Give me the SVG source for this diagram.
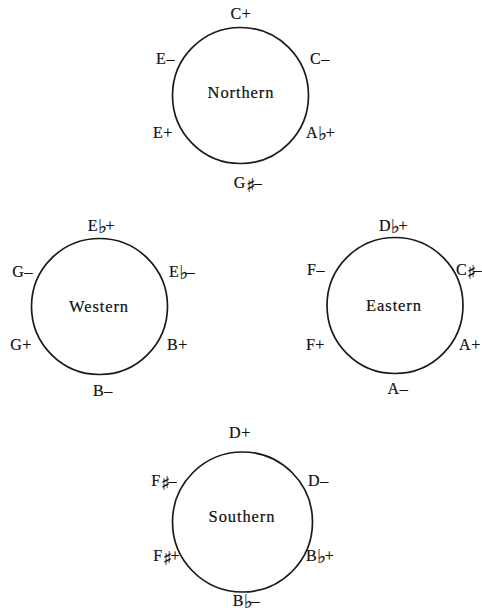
<svg xmlns="http://www.w3.org/2000/svg" width="482" height="611" viewBox="0 0 482 611">
<style>
  .ring { fill: none; stroke: #1a1a1a; stroke-width: 1.7; }
  text { font-family: "Liberation Serif", "DejaVu Serif", serif; font-size: 16px; fill: #111111; letter-spacing: 0.6px; stroke: #111111; stroke-width: 0.2px; }
  .name { font-size: 16.5px; letter-spacing: 0.9px; text-anchor: middle; }
  .l { text-anchor: end; }
  .r { text-anchor: start; }
  .m { text-anchor: middle; }
  .acc { font-family: "DejaVu Sans", sans-serif; font-size: 19px; letter-spacing: -1.5px; }
  .tight { letter-spacing: 0; }
</style>
<rect width="482" height="611" fill="#ffffff"/>

<g id="northern">
  <circle class="ring" cx="240.5" cy="95.5" r="68"/>
  <text class="name" x="241" y="98">Northern</text>
  <text class="m" x="241" y="19">C+</text>
  <text class="l" x="175" y="64">E–</text>
  <text class="r" x="310" y="64">C–</text>
  <text class="l" x="173" y="138">E+</text>
  <text class="r" x="306" y="138">A<tspan class="acc" dy="2">♭</tspan><tspan dy="-2">+</tspan></text>
  <text class="m" x="248" y="188">G<tspan class="acc" dy="4">♯</tspan><tspan dy="-4">–</tspan></text>
</g>

<g id="western">
  <circle class="ring" cx="99.5" cy="306.5" r="68"/>
  <text class="name" x="99" y="312">Western</text>
  <text class="m" x="101.5" y="231">E<tspan class="acc" dy="2">♭</tspan><tspan dy="-2">+</tspan></text>
  <text class="l" x="33" y="277">G–</text>
  <text class="r" x="169" y="277">E<tspan class="acc" dy="2">♭</tspan><tspan dy="-2">–</tspan></text>
  <text class="l" x="32" y="350">G+</text>
  <text class="r" x="167" y="350">B+</text>
  <text class="m" x="103" y="396">B–</text>
</g>

<g id="eastern">
  <circle class="ring" cx="395" cy="305.5" r="68"/>
  <text class="name" x="394" y="311">Eastern</text>
  <text class="m" x="393.5" y="231">D<tspan class="acc" dy="2">♭</tspan><tspan dy="-2">+</tspan></text>
  <text class="l" x="325" y="275">F–</text>
  <text class="r tight" x="456" y="275">C<tspan class="acc" dy="4" style="letter-spacing:-2.5px">♯</tspan><tspan dy="-4">–</tspan></text>
  <text class="l" x="325" y="350">F+</text>
  <text class="r" x="459" y="350">A+</text>
  <text class="m" x="398" y="394">A–</text>
</g>

<g id="southern">
  <circle class="ring" cx="242.5" cy="522" r="70"/>
  <text class="name" x="242" y="522">Southern</text>
  <text class="m" x="240" y="438">D+</text>
  <text class="l" x="177" y="486">F<tspan class="acc" dy="4">♯</tspan><tspan dy="-4">–</tspan></text>
  <text class="r" x="308" y="486">D–</text>
  <text class="l" x="180" y="561">F<tspan class="acc" dy="4">♯</tspan><tspan dy="-4">+</tspan></text>
  <text class="r" x="306" y="561">B<tspan class="acc" dy="2">♭</tspan><tspan dy="-2">+</tspan></text>
  <text class="m" x="246.5" y="606">B<tspan class="acc" dy="2">♭</tspan><tspan dy="-2">–</tspan></text>
</g>
</svg>
